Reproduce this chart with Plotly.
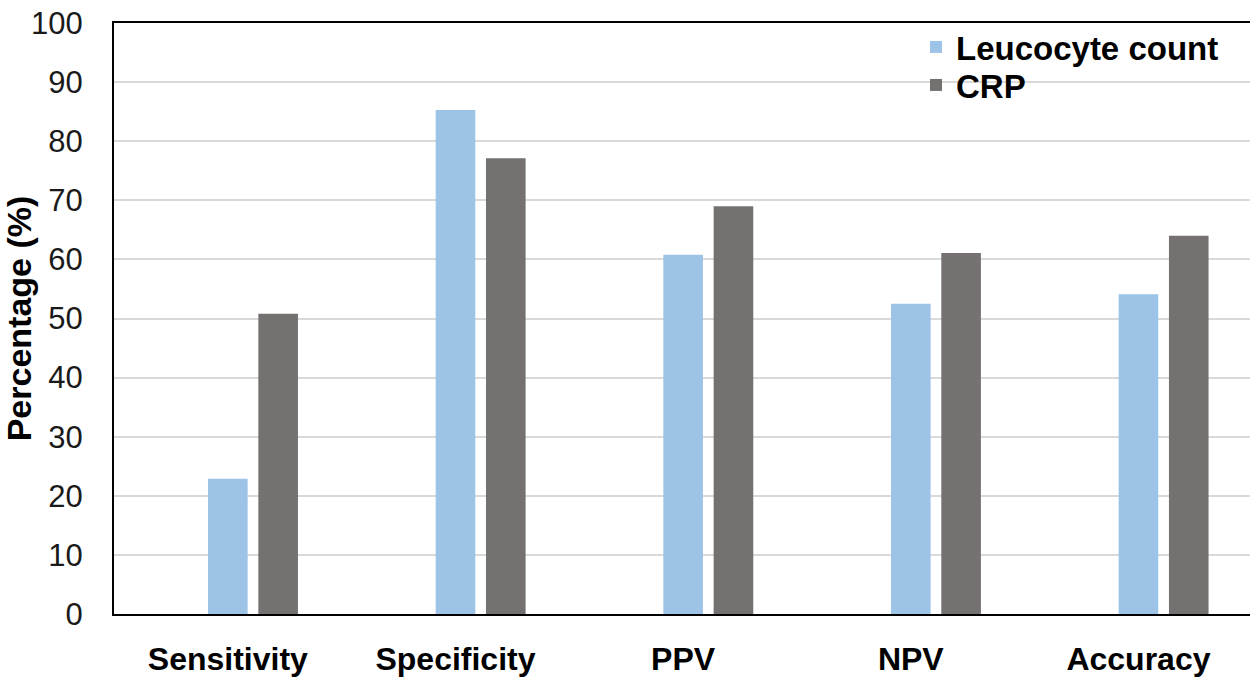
import plotly.graph_objects as go

categories = ["Sensitivity", "Specificity", "PPV", "NPV", "Accuracy"]
leucocyte = [22.9, 85.3, 60.8, 52.5, 54.1]
crp = [50.8, 77.1, 69.0, 61.1, 64.0]
series_names = ["Leucocyte count", "CRP"]
y_ticks = [0, 10, 20, 30, 40, 50, 60, 70, 80, 90, 100]

FONT = "Liberation Sans, Arial, sans-serif"
L_MARGIN, T_MARGIN, B_MARGIN = 114, 23, 66
PLOT_W = 1250 - L_MARGIN
PLOT_H = 680 - T_MARGIN - B_MARGIN


def px_to_paper_x(px):
    return (px - L_MARGIN) / PLOT_W


def px_to_paper_y(py):
    return (680 - B_MARGIN - py) / PLOT_H


fig = go.Figure()
fig.add_trace(go.Bar(
    x=categories, y=leucocyte, name=series_names[0],
    marker=dict(color="#9DC3E6", line=dict(width=0)),
    width=0.174, offset=-0.087, legend="legend",
))
fig.add_trace(go.Bar(
    x=categories, y=crp, name=series_names[1],
    marker=dict(color="#767171", line=dict(width=0)),
    width=0.174, offset=0.134, legend="legend2",
))

legend_common = dict(
    xanchor="left", yanchor="middle",
    bgcolor="rgba(0,0,0,0)",
    font=dict(family=FONT, size=33, color="black", weight="bold"),
    itemsizing="constant",
)

fig.update_layout(
    width=1250, height=680,
    margin=dict(l=L_MARGIN, r=0, t=T_MARGIN, b=B_MARGIN, autoexpand=False),
    paper_bgcolor="white", plot_bgcolor="white",
    barmode="overlay",
    showlegend=True,
    legend=dict(x=px_to_paper_x(916), y=px_to_paper_y(47), **legend_common),
    legend2=dict(x=px_to_paper_x(916), y=px_to_paper_y(85), **legend_common),
    font=dict(family=FONT, color="black"),
)

fig.update_xaxes(
    type="category",
    range=[-0.5, 4.49],
    automargin=False,
    showline=True, linecolor="black", linewidth=2, mirror=True,
    showgrid=False, ticks="",
    tickfont=dict(family=FONT, size=32, color="black", weight="bold"),
    ticklabelstandoff=16,
)
fig.update_yaxes(
    range=[0, 100],
    tickvals=y_ticks,
    automargin=False,
    showline=True, linecolor="black", linewidth=2,
    showgrid=True, gridcolor="#D9D9D9", gridwidth=2,
    zeroline=False, ticks="",
    tickfont=dict(family=FONT, size=31, color="#1a1a1a"),
    ticklabelstandoff=23,
    title=dict(text="Percentage (%)", standoff=2,
               font=dict(family=FONT, size=34, color="black", weight="bold")),
)

fig.write_html("out.html")
